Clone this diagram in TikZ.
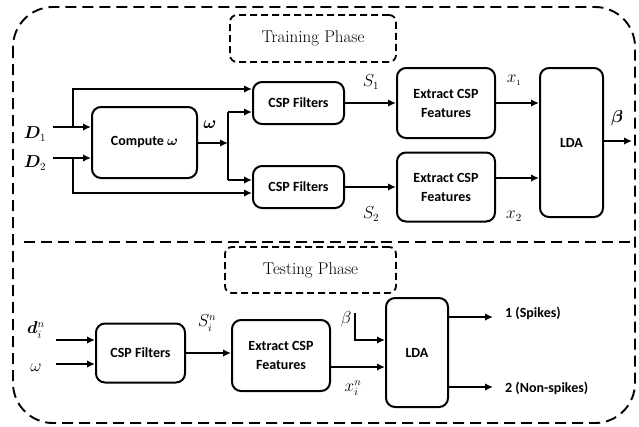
\documentclass[tikz,border=0pt]{standalone}
\usepackage{amsmath,bm}
\usepackage{fontspec}
\newfontfamily\calfont{Carlito}
\usetikzlibrary{arrows.meta}
\begin{document}
\begin{tikzpicture}[x=1pt,y=-1pt,
  box/.style={draw, line width=2pt, rounded corners=9pt, align=center,
    font=\calfont\bfseries\fontsize{14}{19}\selectfont, inner sep=0pt},
  phase/.style={draw, line width=1.8pt, rounded corners=7pt, dash pattern=on 7pt off 4pt,
    font=\fontsize{17}{19}\selectfont, inner sep=0pt},
  arr/.style={line width=2pt, -{Latex[length=8pt,width=7.5pt]}},
  ln/.style={line width=2pt},
  lbl/.style={font=\fontsize{16}{18}\selectfont, inner sep=0pt},
  outl/.style={font=\calfont\bfseries\fontsize{14}{16}\selectfont, inner sep=0pt, anchor=west}]
\useasboundingbox (0,0) rectangle (639,426);
% outer frame and separator
\draw[line width=1.9pt, dash pattern=on 11pt off 6pt, rounded corners=40pt] (13,7) rectangle (635,423);
\coordinate (sepL) at (24,242);
\coordinate (sepR) at (635,242);
\draw[line width=1.9pt, dash pattern=on 11pt off 6pt] (sepL) -- (sepR);
% phase titles
\node[phase, minimum width=166pt, minimum height=47pt] (tp) at (313,38.5) {Training Phase};
\node[phase, minimum width=171pt, minimum height=46pt] (ts) at (310.5,270) {Testing Phase};
% training boxes
\node[box, minimum width=105pt, minimum height=71pt] (comp) at (144.5,142.5) {Compute $\bm{\omega}$};
\node[box, minimum width=91pt, minimum height=42pt] (csp1) at (298.5,103) {CSP Filters};
\node[box, minimum width=91pt, minimum height=42pt] (csp2) at (298.5,187) {CSP Filters};
\node[box, minimum width=98pt, minimum height=70pt] (ext1) at (446,103) {Extract CSP\\Features};
\node[box, minimum width=98pt, minimum height=69pt] (ext2) at (446,187) {Extract CSP\\Features};
\node[box, minimum width=63pt, minimum height=149pt] (lda) at (571.5,142.5) {LDA};
% testing boxes
\node[box, minimum width=89pt, minimum height=59pt] (cspt) at (140.5,353) {CSP Filters};
\node[box, minimum width=98pt, minimum height=71pt] (extt) at (281,355.5) {Extract CSP\\Features};
\node[box, minimum width=62pt, minimum height=109pt] (ldat) at (417,352.5) {LDA};
% training connectors
\coordinate (d1s) at (53,127);
\coordinate (d2s) at (53,158);
\coordinate (b1) at (73,127);
\coordinate (b2) at (73,158);
\coordinate (t1) at (73,89);
\coordinate (t2) at (73,193);
\draw[arr] (d1s) -- (comp.west |- d1s);
\draw[arr] (d2s) -- (comp.west |- d2s);
\draw[arr] (b1) -- (t1) -- (csp1.west |- t1);
\draw[arr] (b2) -- (t2) -- (csp2.west |- t2);
\coordinate (wj) at (228,143);
\coordinate (w1) at (228,112);
\coordinate (w2) at (228,180);
\draw[arr] (comp.east |- wj) -- (wj);
\draw[ln] (w1) -- (w2);
\draw[arr] (w1) -- (csp1.west |- w1);
\draw[arr] (w2) -- (csp2.west |- w2);
\draw[arr] (csp1.east) -- (ext1.west);
\draw[arr] (csp2.east) -- (ext2.west);
\coordinate (x2y) at (495,178);
\draw[arr] (ext1.east) -- (ext1.east -| lda.west);
\draw[arr] (x2y) -- (x2y -| lda.west);
\coordinate (bo) at (632,141);
\draw[arr] (lda.east |- bo) -- (bo);
% training labels
\node[lbl] (lD1) at (35,134) {$\bm{D}_1$};
\node[lbl] (lD2) at (35,163) {$\bm{D}_2$};
\node[lbl] (lw) at (210,125) {$\bm{\omega}$};
\node[lbl] (lS1) at (371,82) {$S_1$};
\node[lbl] (lS2) at (371,214) {$S_2$};
\node[lbl] (lx1) at (514,80) {$x_{\scriptscriptstyle 1}$};
\node[lbl] (lx2) at (514,216) {$x_2$};
\node[lbl] (lb) at (617,118) {$\bm{\beta}$};
% testing connectors
\coordinate (dns) at (56,340);
\coordinate (ws) at (56,364);
\draw[arr] (dns) -- (cspt.west |- dns);
\draw[arr] (ws) -- (cspt.west |- ws);
\draw[arr] (cspt.east) -- (cspt.east -| extt.west);
\coordinate (xy) at (330,367);
\draw[arr] (xy) -- (xy -| ldat.west);
\coordinate (bt) at (355,313);
\coordinate (bb) at (355,340);
\draw[arr] (bt) -- (bb) -- (bb -| ldat.west);
\coordinate (o1) at (493,317);
\coordinate (o2) at (493,387);
\draw[arr] (o1 -| ldat.east) -- (o1);
\draw[arr] (o2 -| ldat.east) -- (o2);
% testing labels
\node[lbl] (ldn) at (36,330) {$\bm{d}_i^n$};
\node[lbl] (lwt) at (36,368) {$\omega$};
\node[lbl] (lSn) at (207,323) {$S_i^n$};
\node[lbl] (lxn) at (353,388) {$x_i^n$};
\node[lbl] (lbt) at (346,319) {$\beta$};
\node[outl] (sp) at (505,313) {1 (Spikes)};
\node[outl] (nsp) at (505,388) {2 (Non-spikes)};
\end{tikzpicture}
\end{document}
